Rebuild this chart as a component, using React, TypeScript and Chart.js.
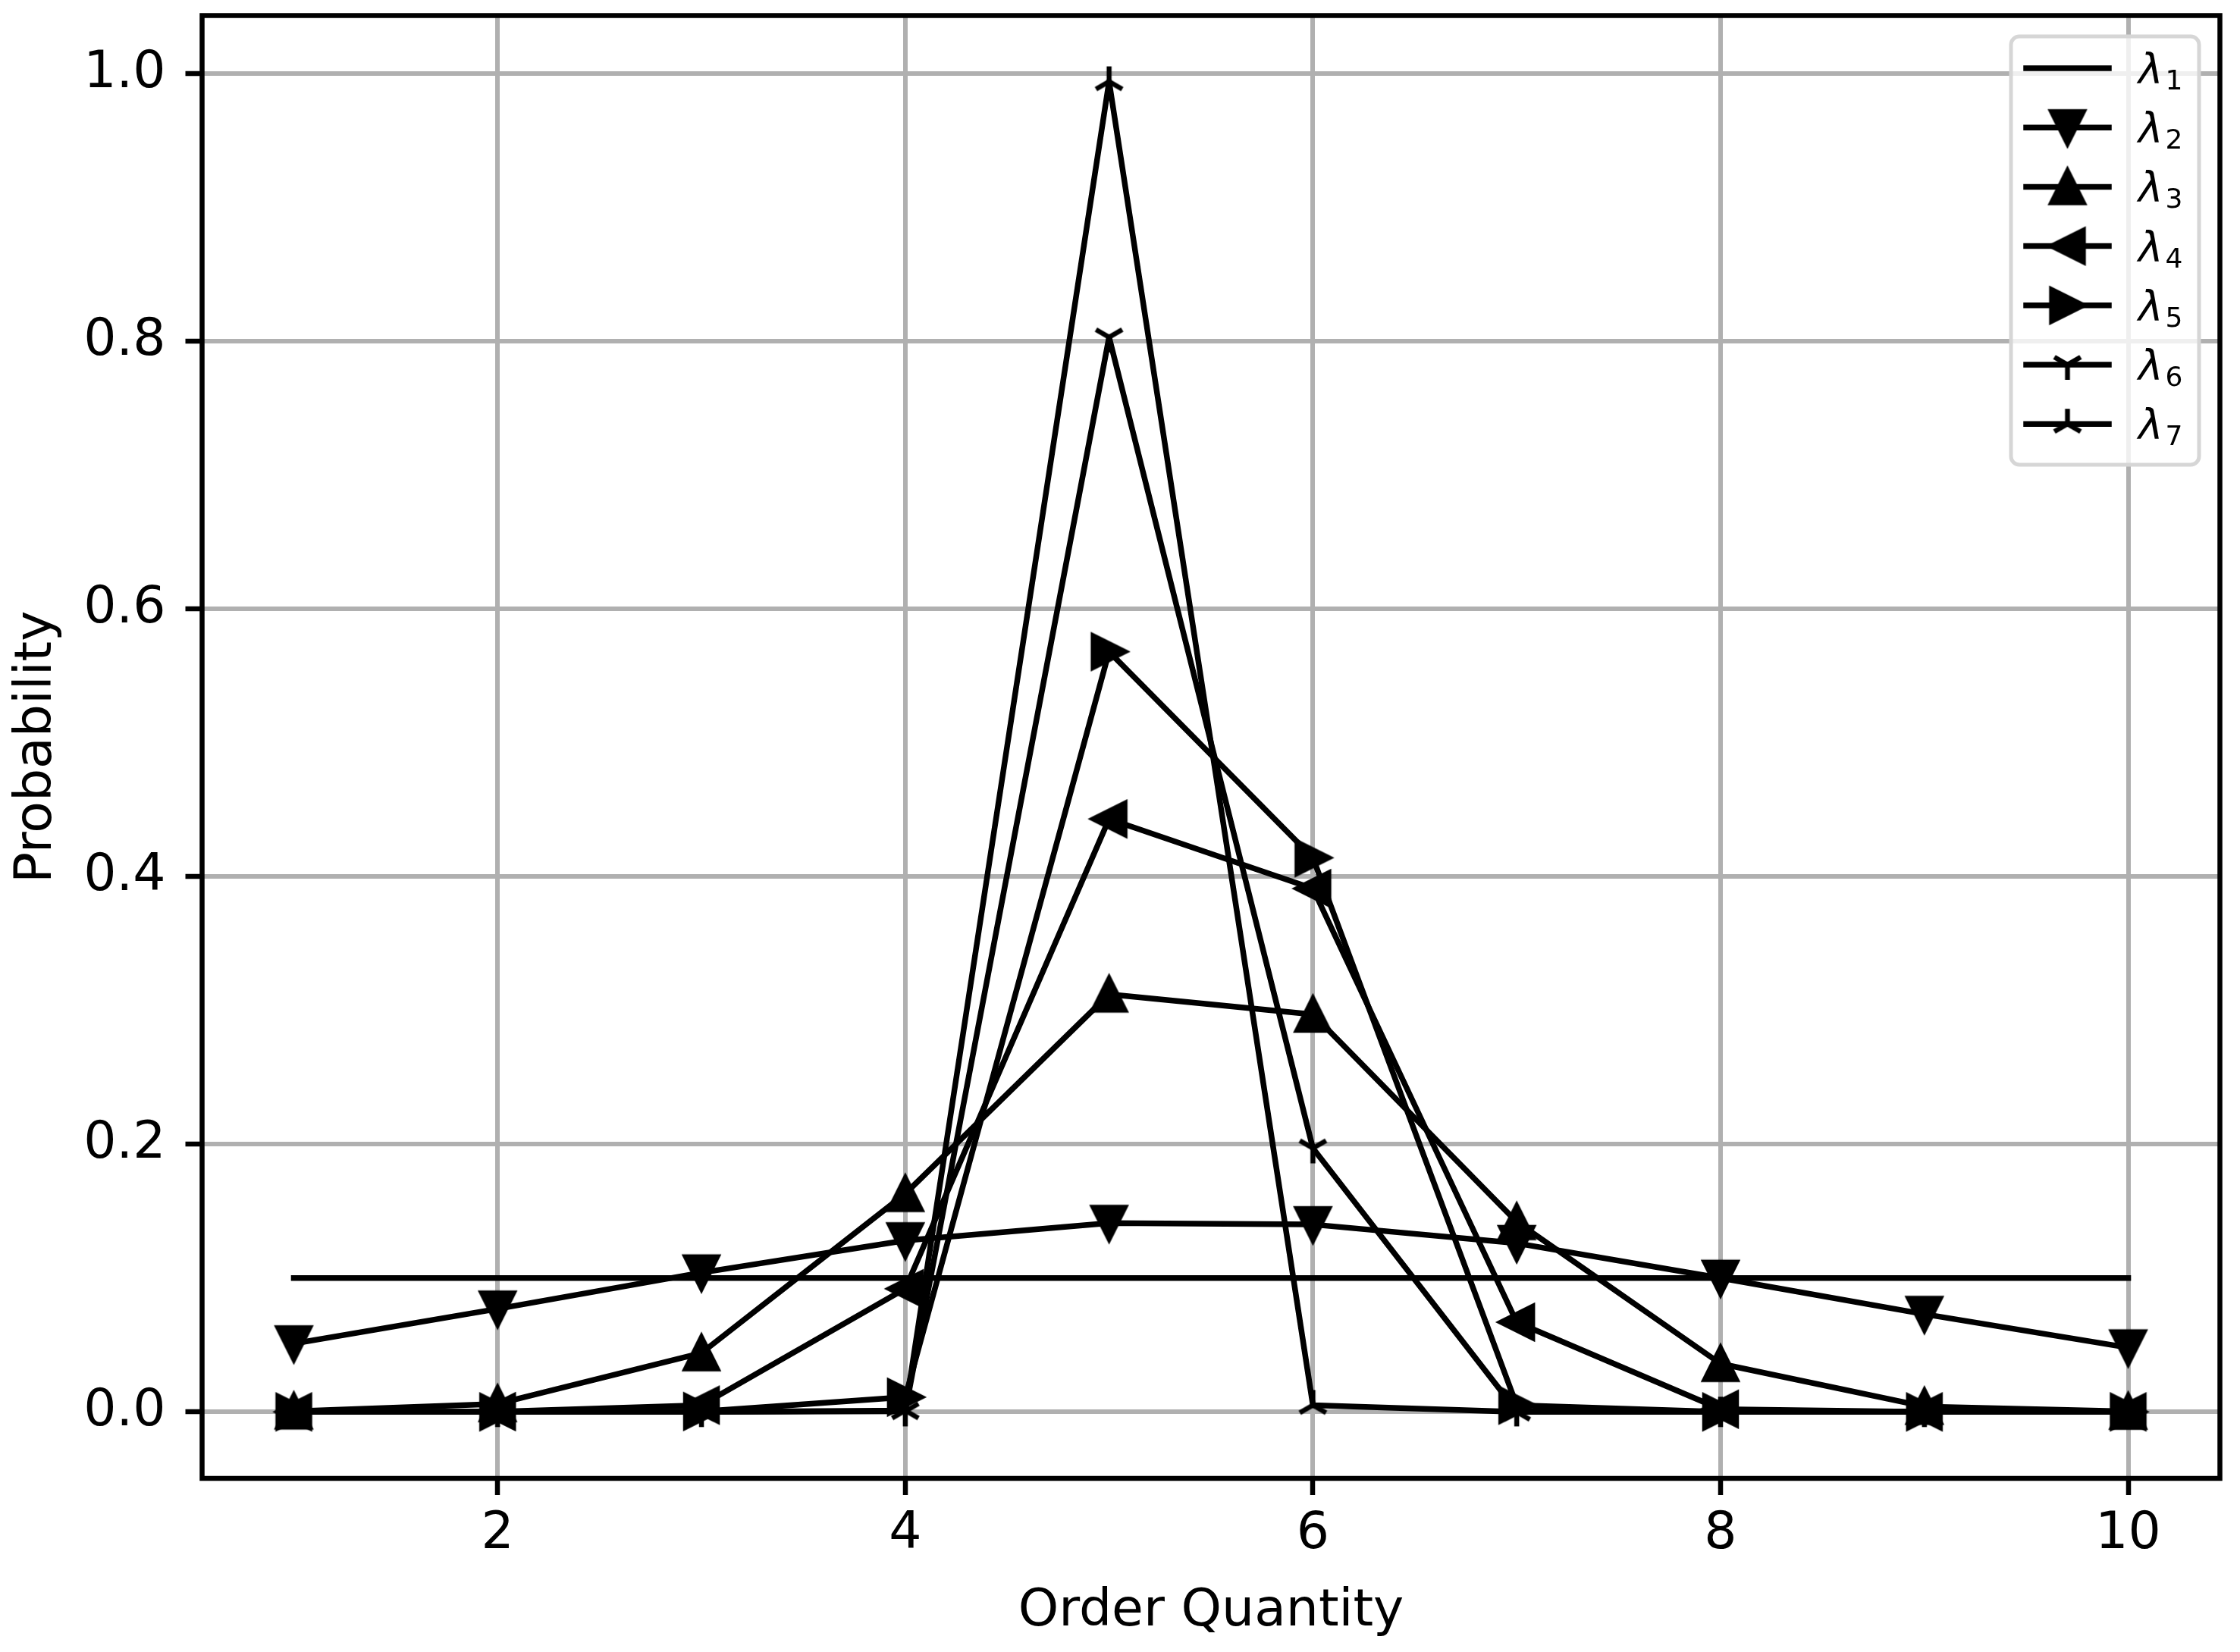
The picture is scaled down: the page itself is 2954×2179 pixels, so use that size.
import React, { useEffect, useRef } from "react";
import { Chart, registerables } from "chart.js";

Chart.register(...registerables);

// ---------------- data ----------------
const orderQuantity = [1, 2, 3, 4, 5, 6, 7, 8, 9, 10];
const lambda1 = [0.1, 0.1, 0.1, 0.1, 0.1, 0.1, 0.1, 0.1, 0.1, 0.1];
const lambda2 = [0.051, 0.077, 0.104, 0.128, 0.141, 0.14, 0.126, 0.1, 0.073, 0.048];
const lambda3 = [0.0005, 0.006, 0.044, 0.163, 0.312, 0.297, 0.142, 0.036, 0.004, 0.0003];
const lambda4 = [0, 0.0002, 0.005, 0.092, 0.443, 0.391, 0.067, 0.002, 0, 0];
const lambda5 = [0, 0, 0.0003, 0.011, 0.568, 0.414, 0.005, 0, 0, 0];
const lambda6 = [0, 0, 0, 0.0005, 0.803, 0.197, 0.0005, 0, 0, 0];
const lambda7 = [0, 0, 0, 0.001, 0.994, 0.005, 0, 0, 0, 0];

const seriesValues = [lambda1, lambda2, lambda3, lambda4, lambda5, lambda6, lambda7];
const seriesSubscripts = ["1", "2", "3", "4", "5", "6", "7"];
const seriesMarkers = ["none", "triangleDown", "triangleUp", "triangleLeft", "triangleRight", "triDown", "triUp"];

const xTicks = [2, 4, 6, 8, 10];
const yTicks = [0, 0.2, 0.4, 0.6, 0.8, 1.0];
const xLabel = "Order Quantity";
const yLabel = "Probability";

// ---------------- styling ----------------
const W = 2954;
const H = 2179;
const FONT = '"DejaVu Sans", "Liberation Sans", sans-serif';
const LINE_W = 7.5;
const GRID_W = 6;
const FRAME_W = 6.5;

function makeMarker(kind: string): HTMLCanvasElement | null {
  if (kind === "none") return null;
  const S = 72;
  const c = document.createElement("canvas");
  c.width = S;
  c.height = S;
  const ctx = c.getContext("2d")!;
  ctx.translate(S / 2, S / 2);
  ctx.fillStyle = "#000";
  ctx.strokeStyle = "#000";
  const h = 21;
  const lw = 6.5;
  const tri = (pts: number[][]) => {
    ctx.beginPath();
    ctx.moveTo(pts[0][0], pts[0][1]);
    for (let i = 1; i < pts.length; i++) ctx.lineTo(pts[i][0], pts[i][1]);
    ctx.closePath();
    ctx.lineJoin = "miter";
    ctx.miterLimit = 10;
    ctx.lineWidth = lw;
    ctx.fill();
    ctx.stroke();
  };
  const r = 20;
  const spokes = (dirs: number[][]) => {
    ctx.lineWidth = lw;
    ctx.lineCap = "butt";
    ctx.beginPath();
    for (const d of dirs) {
      ctx.moveTo(0, 0);
      ctx.lineTo(d[0] * r, d[1] * r);
    }
    ctx.stroke();
  };
  switch (kind) {
    case "triangleDown":
      tri([[0, h], [-h, -h], [h, -h]]);
      break;
    case "triangleUp":
      tri([[0, -h], [-h, h], [h, h]]);
      break;
    case "triangleLeft":
      tri([[-h, 0], [h, -h], [h, h]]);
      break;
    case "triangleRight":
      tri([[h, 0], [-h, -h], [-h, h]]);
      break;
    case "triDown":
      spokes([[0, 1], [0.866, -0.5], [-0.866, -0.5]]);
      break;
    case "triUp":
      spokes([[0, -1], [0.866, 0.5], [-0.866, 0.5]]);
      break;
  }
  return c;
}

export default function App() {
  const canvasRef = useRef<HTMLCanvasElement | null>(null);

  useEffect(() => {
    const canvas = canvasRef.current;
    if (!canvas) return;
    const markers = seriesMarkers.map(makeMarker);

    const datasets = seriesValues.map((vals, i) => ({
      label: "λ" + seriesSubscripts[i],
      data: orderQuantity.map((x, j) => ({ x, y: vals[j] })),
      borderColor: "#000",
      backgroundColor: "#000",
      borderWidth: LINE_W,
      borderJoinStyle: "round" as const,
      borderCapStyle: "square" as const,
      tension: 0,
      fill: false,
      pointStyle: (markers[i] || "circle") as any,
      pointRadius: markers[i] ? 10 : 0,
      pointHoverRadius: markers[i] ? 10 : 0,
      order: seriesValues.length - 1 - i,
    }));

    const framePlugin = {
      id: "frame",
      afterDatasetsDraw(chart: any) {
        const { ctx, chartArea: a } = chart;
        ctx.save();
        ctx.strokeStyle = "#000";
        ctx.lineWidth = FRAME_W;
        ctx.lineJoin = "miter";
        ctx.strokeRect(a.left, a.top, a.right - a.left, a.bottom - a.top);
        ctx.restore();
      },
    };

    const legendPlugin = {
      id: "mplLegend",
      afterDraw(chart: any) {
        const { ctx, chartArea: a } = chart;
        const bx = a.right - 275.5;
        const by = a.top + 27.5;
        const bw = 248;
        const bh = 565;
        const rad = 11;
        ctx.save();
        ctx.beginPath();
        ctx.moveTo(bx + rad, by);
        ctx.lineTo(bx + bw - rad, by);
        ctx.arcTo(bx + bw, by, bx + bw, by + rad, rad);
        ctx.lineTo(bx + bw, by + bh - rad);
        ctx.arcTo(bx + bw, by + bh, bx + bw - rad, by + bh, rad);
        ctx.lineTo(bx + rad, by + bh);
        ctx.arcTo(bx, by + bh, bx, by + bh - rad, rad);
        ctx.lineTo(bx, by + rad);
        ctx.arcTo(bx, by, bx + rad, by, rad);
        ctx.closePath();
        ctx.fillStyle = "rgba(255,255,255,0.8)";
        ctx.fill();
        ctx.strokeStyle = "#d6d6d6";
        ctx.lineWidth = 5;
        ctx.stroke();

        const lx1 = bx + 17;
        const lx2 = bx + 132;
        const mx = (lx1 + lx2) / 2;
        const tx = bx + 168;
        for (let i = 0; i < seriesValues.length; i++) {
          const ry = a.top + 69.5 + i * 78.2;
          ctx.strokeStyle = "#000";
          ctx.lineWidth = LINE_W;
          ctx.lineCap = "square";
          ctx.beginPath();
          ctx.moveTo(lx1 + 3, ry);
          ctx.lineTo(lx2 - 3, ry);
          ctx.stroke();
          const m = markers[i];
          if (m) ctx.drawImage(m, mx - m.width / 2, ry - m.height / 2);
          ctx.fillStyle = "#000";
          ctx.textAlign = "left";
          ctx.textBaseline = "alphabetic";
          ctx.font = `italic 55px ${FONT}`;
          ctx.fillText("λ", tx, ry + 20);
          const lw = ctx.measureText("λ").width;
          ctx.font = `36px ${FONT}`;
          ctx.fillText(seriesSubscripts[i], tx + lw + 3, ry + 28);
        }
        ctx.restore();
      },
    };

    const tickFont = { family: FONT, size: 68, lineHeight: 1.2 };

    const chart = new Chart(canvas, {
      type: "line",
      data: { datasets: datasets as any },
      options: {
        animation: false,
        responsive: false,
        devicePixelRatio: 1,
        events: [],
        layout: { padding: { left: 0, top: 20.5, right: 26.5, bottom: 0 } },
        plugins: { legend: { display: false }, tooltip: { enabled: false } },
        scales: {
          x: {
            type: "linear",
            min: 0.55,
            max: 10.45,
            afterBuildTicks: (s: any) => {
              s.ticks = xTicks.map((v) => ({ value: v }));
            },
            afterFit: (s: any) => {
              s.height = H - 1950;
              s.paddingLeft = 0;
              s.paddingRight = 0;
              s.paddingTop = 0;
              s.paddingBottom = 0;
            },
            border: { display: false },
            grid: {
              color: "#b0b0b0",
              lineWidth: GRID_W,
              drawTicks: true,
              tickLength: 22,
              tickWidth: FRAME_W,
              tickColor: "#000",
            },
            ticks: {
              color: "#000",
              font: tickFont,
              padding: 11.7,
              autoSkip: false,
              maxRotation: 0,
              minRotation: 0,
              callback: (v: any) => String(v),
            },
            title: {
              display: true,
              text: xLabel,
              color: "#000",
              font: tickFont,
              padding: { top: 0, bottom: 12 },
            },
          },
          y: {
            type: "linear",
            min: -0.0497,
            max: 1.0433,
            afterBuildTicks: (s: any) => {
              s.ticks = yTicks.map((v) => ({ value: v }));
            },
            afterFit: (s: any) => {
              s.width = 266.5;
              s.paddingLeft = 0;
              s.paddingRight = 0;
              s.paddingTop = 0;
              s.paddingBottom = 0;
            },
            border: { display: false },
            grid: {
              color: "#b0b0b0",
              lineWidth: GRID_W,
              drawTicks: true,
              tickLength: 22,
              tickWidth: FRAME_W,
              tickColor: "#000",
            },
            ticks: {
              color: "#000",
              font: tickFont,
              padding: 26,
              autoSkip: false,
              callback: (v: any) => Number(v).toFixed(1),
            },
            title: {
              display: true,
              text: yLabel,
              color: "#000",
              font: tickFont,
              padding: { top: 9, bottom: 0 },
            },
          },
        },
      } as any,
      plugins: [framePlugin, legendPlugin],
    });

    return () => chart.destroy();
  }, []);

  return (
    <canvas
      ref={canvasRef}
      width={W}
      height={H}
      style={{ position: "fixed", left: 0, top: 0, width: `${W}px`, height: `${H}px`, background: "#fff" }}
    />
  );
}
